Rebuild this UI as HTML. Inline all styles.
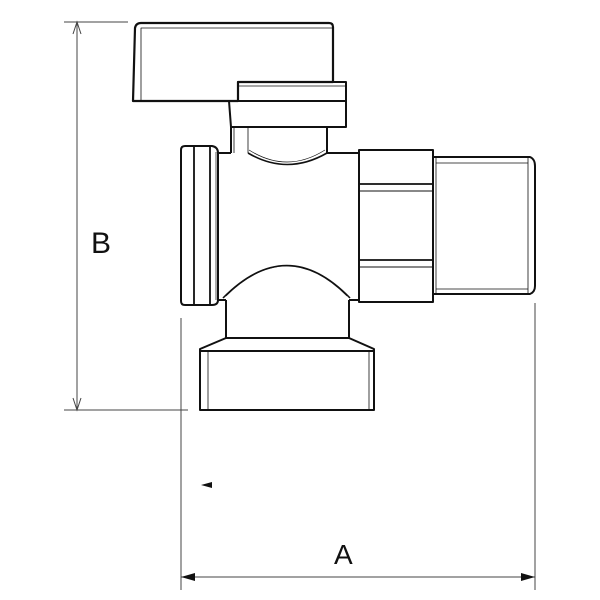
<!DOCTYPE html>
<html><head><meta charset="utf-8"><style>
html,body{margin:0;padding:0;background:#fff;}
svg{display:block;}
text{font-family:"Liberation Sans",sans-serif;fill:#111;}
</style></head><body>
<svg width="600" height="600" viewBox="0 0 600 600" xmlns="http://www.w3.org/2000/svg">
<g fill="none" stroke="#111" stroke-linejoin="round">
<path d="M133,101 L135,28 Q136,23 141,23 L329,23 Q333,23 333,27 L333,82 L238,82 L238,101 Z" stroke-width="2.2"/>
<path d="M141,101 L141,28 L333,28" stroke-width="0.8"/>
<rect x="238" y="82" width="108" height="19" stroke-width="2"/>
<line x1="238" y1="86" x2="346" y2="86" stroke-width="0.8"/>
<path d="M229,101 L346,101 L346,127 L231,127 Z" stroke-width="2"/>
<path d="M231,127 L231,153 M327,127 L327,153" stroke-width="2"/>
<path d="M234,127 L234,153 M248,127 L248,153" stroke-width="0.8"/>
<path d="M218,153 L231,153 M327,153 L359,153 L359,300 L349,300 M226,300 L218,300 L218,153" stroke-width="2"/>
<path d="M248,153 Q287,176 327,153" stroke-width="1.6"/>
<path d="M249,150 Q287,174 325,150" stroke-width="0.7"/>
<path d="M223,298 Q287,233 350,298" stroke-width="1.6"/>
<path d="M226,296 Q287,236 347,296" stroke-width="0.7"/>
<path d="M185,146 L212,146 Q218,147 218,153 L218,300 Q218,305 212,305 L185,305 Q181,305 181,301 L181,150 Q181,146 185,146 Z" stroke-width="2"/>
<path d="M194,146 L194,305 M210,146 L210,305" stroke-width="1.8"/>
<path d="M216,152 L216,300" stroke-width="0.7"/>
<rect x="359" y="150" width="74" height="152" stroke-width="2"/>
<path d="M359,184 L433,184 M359,260 L433,260" stroke-width="1.8"/>
<path d="M359,191 L433,191 M359,267 L433,267" stroke-width="0.9"/>
<path d="M433,157 L530,157 Q535,159 535,166 L535,286 Q535,292 530,294 L433,294" stroke-width="2"/>
<path d="M436,158 L436,293 M528,158 L528,293 M436,163 L528,163 M436,289 L528,289" stroke-width="0.8"/>
<path d="M226,300 L226,338 M349,300 L349,338 M226,338 L349,338" stroke-width="2"/>
<path d="M226,338 L200,349 L200,410 L374,410 L374,349 L349,338" stroke-width="2"/>
<path d="M200,351 L374,351" stroke-width="2"/>
<path d="M208,351 L208,410 M369,351 L369,410" stroke-width="0.8"/>
</g>
<g stroke="#444" stroke-width="1" fill="none">
<line x1="64" y1="22" x2="128" y2="22"/>
<line x1="64" y1="410" x2="188" y2="410"/>
<line x1="77" y1="22" x2="77" y2="410"/>
<path d="M73,34 L77,22 L81,34 M73,398 L77,410 L81,398"/>
<line x1="181" y1="318" x2="181" y2="590"/>
<line x1="535" y1="303" x2="535" y2="590"/>
<line x1="181" y1="577" x2="535" y2="577"/>
</g>
<g fill="#111">
<path d="M181,577 L195,573 L195,581 Z"/>
<path d="M535,577 L521,573 L521,581 Z"/>
<path d="M201,485 L212,482 L212,488 Z"/>
</g>
<text x="91" y="253" font-size="30">B</text>
<text x="334" y="564" font-size="28">A</text>
</svg>
</body></html>
